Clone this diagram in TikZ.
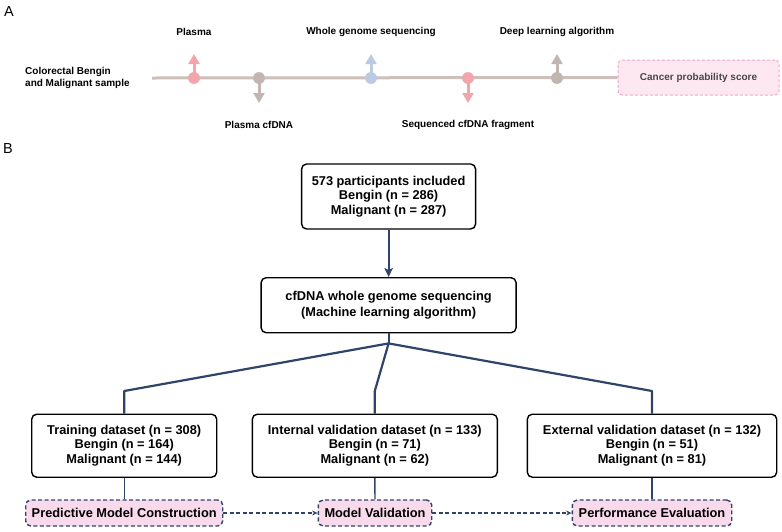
\documentclass[tikz,border=0pt]{standalone}
\usepackage{fontspec}
\setmainfont{Liberation Sans}
\usetikzlibrary{arrows.meta}
\definecolor{navy}{HTML}{2F4468}
\definecolor{tpink}{HTML}{F2A6AC}
\definecolor{ttaupe}{HTML}{CDBFB9}
\definecolor{tblue}{HTML}{BCCBE4}
\definecolor{cpfill}{HTML}{FDE8F1}
\definecolor{cpdraw}{HTML}{F0A8C8}
\definecolor{dfill}{HTML}{F9D9EC}
\tikzset{
  x=1pt, y=1pt,
  panel/.style={font=\fontsize{14.5}{16}\selectfont, inner sep=0pt},
  alabel/.style={font=\fontsize{10}{11.3}\selectfont\bfseries, inner sep=0pt},
  dot/.style={circle, minimum size=11.5pt, inner sep=0pt, fill=#1},
  tarr/.style={draw=#1, line width=3pt, -{Triangle[width=11pt,length=10pt]}},
  flowbox/.style={draw=black, line width=1.4pt, rounded corners=5pt, align=center, inner sep=0pt,
    font=\fontsize{12.8}{14.4}\selectfont\bfseries},
  stagebox/.style={draw=navy, dashed, dash pattern=on 4pt off 2.5pt, line width=1.4pt, rounded corners=5pt,
    fill=dfill, align=center, inner sep=0pt, minimum height=26pt, font=\fontsize{12.8}{14.4}\selectfont\bfseries},
  mainline/.style={draw=navy, line width=2.2pt},
  thinline/.style={draw=navy, line width=1.4pt},
}
\begin{document}
\begin{tikzpicture}
\useasboundingbox (0,0) rectangle (782,-531);
% ---------------- Panel A
\node[panel] (A) at (9,-11.5) {A};
\node[alabel, anchor=west, align=left] (src) at (25,-78) {Colorectal Bengin\\and Malignant sample};
\node[draw=cpdraw, dashed, dash pattern=on 3pt off 2pt, line width=1pt, fill=cpfill, rounded corners=4pt,
  minimum width=161pt, minimum height=35pt, inner sep=0pt, text=black!72,
  font=\fontsize{10}{12}\selectfont\bfseries] (cps) at (698.5,-77.5) {Cancer probability score};
\coordinate (ls) at (152,-78);
\draw[ttaupe, line width=3pt] (ls) -- (cps.west);
% dots
\node[dot=tpink] (d1) at (194,-78) {};
\node[dot=ttaupe!95!black] (d2) at (259,-78) {};
\node[dot=tblue] (d3) at (371,-78) {};
\node[dot=tpink] (d4) at (468,-78) {};
\node[dot=ttaupe!95!black] (d5) at (557,-78) {};
\coordinate (u1) at (194,-54);
\coordinate (u2) at (259,-103);
\coordinate (u3) at (371,-54);
\coordinate (u4) at (468,-103);
\coordinate (u5) at (557,-54);
\draw[tarr=tpink] (d1.center) -- (u1);
\draw[tarr=ttaupe!95!black] (d2.center) -- (u2);
\draw[tarr=tblue] (d3.center) -- (u3);
\draw[tarr=tpink] (d4.center) -- (u4);
\draw[tarr=ttaupe!95!black] (d5.center) -- (u5);
\node[dot=tpink] at (194,-78) {};
\node[dot=ttaupe!95!black] at (259,-78) {};
\node[dot=tblue] at (371,-78) {};
\node[dot=tpink] at (468,-78) {};
\node[dot=ttaupe!95!black] at (557,-78) {};
% labels
\node[alabel] (l1) at (194,-32.3) {Plasma};
\node[alabel] (l2) at (259,-125) {Plasma cfDNA};
\node[alabel] (l3) at (371,-32.3) {Whole genome sequencing};
\node[alabel] (l4) at (468,-125) {Sequenced cfDNA fragment};
\node[alabel] (l5) at (557,-32.3) {Deep learning algorithm};
% ---------------- Panel B
\node[panel] (B) at (8,-149) {B};
\node[flowbox, minimum width=174pt, minimum height=65pt] (b1) at (388.6,-196.5)
  {573 participants included\\Bengin (n = 286)\\Malignant (n = 287)};
\node[flowbox, minimum width=255pt, minimum height=55pt, font=\fontsize{12.8}{15.8}\selectfont\bfseries] (b2) at (388.6,-305.2)
  {cfDNA whole genome sequencing\\(Machine learning algorithm)};
\node[flowbox, minimum width=185pt, minimum height=63pt] (t1) at (124.2,-445.7)
  {Training dataset (n = 308)\\Bengin (n = 164)\\Malignant (n = 144)};
\node[flowbox, minimum width=245pt, minimum height=63pt] (t2) at (374.8,-445.7)
  {Internal validation dataset (n = 133)\\Bengin (n = 71)\\Malignant (n = 62)};
\node[flowbox, minimum width=249.4pt, minimum height=63pt] (t3) at (652,-445.7)
  {External validation dataset (n = 132)\\Bengin (n = 51)\\Malignant (n = 81)};
\node[stagebox, minimum width=197pt] (s1) at (124.2,-513) {Predictive Model Construction};
\node[stagebox, minimum width=113.4pt] (s2) at (375,-513) {Model Validation};
\node[stagebox, minimum width=159.4pt] (s3) at (652,-513) {Performance Evaluation};
% connectors
\draw[mainline, -{Stealth[length=9pt,width=8.5pt,inset=2pt]}] (b1.south) -- (b2.north);
\coordinate (br) at (388.6,-343.4);
\coordinate (c1) at (124.2,-391);
\coordinate (c2) at (374.8,-391);
\coordinate (c3) at (652,-391);
\draw[mainline] (b2.south) -- (br);
\draw[mainline, line join=round] (br) -- (c1) -- (t1.north);
\draw[mainline, line join=round] (br) -- (c2) -- (t2.north);
\draw[mainline, line join=round] (br) -- (c3) -- (t3.north);
\draw[thinline] (t1.south) -- (s1.north);
\draw[thinline] (t2.south) -- (s2.north);
\draw[thinline] (t3.south) -- (s3.north);
\draw[thinline, dashed, dash pattern=on 4pt off 2.5pt, -{Stealth[length=5.5pt,width=5pt]}] (s1.east) -- (s2.west);
\draw[thinline, dashed, dash pattern=on 4pt off 2.5pt, -{Stealth[length=5.5pt,width=5pt]}] (s2.east) -- (s3.west);
\end{tikzpicture}
\end{document}
